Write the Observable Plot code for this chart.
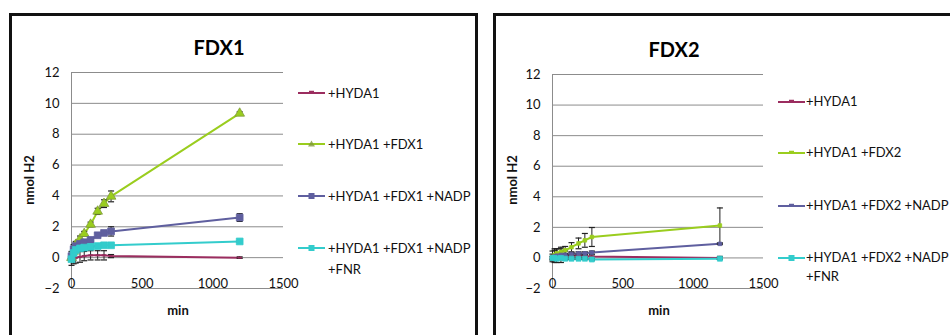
<!DOCTYPE html>
<html><head><meta charset="utf-8">
<script src="https://cdn.jsdelivr.net/npm/d3@7"></script>
<script src="https://cdn.jsdelivr.net/npm/@observablehq/plot@0.6"></script>
<style>
html,body{margin:0;padding:0;background:#fff;}
body{width:950px;height:335px;overflow:hidden;position:relative;font-family:Lato,"Open Sans",sans-serif;color:#111;}
.box{position:absolute;border:3px solid #111;box-sizing:border-box;background:#fff;}
.title{position:absolute;font-weight:bold;font-size:20px;transform:translate(-50%,-50%);color:#000;white-space:nowrap;}
.axt{position:absolute;font-weight:bold;font-size:13px;color:#111;white-space:nowrap;}
.leg{position:absolute;font-size:13px;color:#111;line-height:20px;}
.leg svg{position:absolute;left:0;top:5px;}
.leg span{position:absolute;display:block;}
.plotwrap{position:absolute;top:0;}
</style>
</head><body>
<div class="box" style="left:9px;top:13px;width:469px;height:340px"></div>
<div class="box" style="left:493px;top:13px;width:480px;height:340px"></div>
<div id="root"></div>
<script>
// ---- data ----
const timesMin = [0, 15, 30, 60, 90, 135, 185, 230, 280, 1190];
const xTicks = [0, 500, 1000, 1500];
const yTicks = [-2, 0, 2, 4, 6, 8, 10, 12];
const gridLevels = [0, 2, 4, 6, 8, 10, 12];

const panelTitles = ["FDX1", "FDX2"];
const fdx1Labels = ["+HYDA1", "+HYDA1 +FDX1", "+HYDA1 +FDX1 +NADP", "+HYDA1 +FDX1 +NADP +FNR"];
const fdx2Labels = ["+HYDA1", "+HYDA1 +FDX2", "+HYDA1 +FDX2 +NADP", "+HYDA1 +FDX2 +NADP +FNR"];
const seriesColors = ["#9B2D5F", "#9ACD1E", "#5F5F9F", "#33CCCC"];

// FDX1 panel
const fdx1Hyda      = [-0.2, -0.05, 0.0, 0.05, 0.1, 0.15, 0.15, 0.15, 0.1, 0.0];
const fdx1HydaSd    = [0.3, 0.35, 0.35, 0.35, 0.3, 0.3, 0.3, 0.3, 0.1, 0.05];
const fdx1Fdx       = [0.0, 0.4, 0.85, 1.2, 1.55, 2.15, 3.0, 3.5, 3.97, 9.35];
const fdx1FdxSd     = [0.05, 0.2, 0.2, 0.2, 0.15, 0.15, 0.2, 0.25, 0.35, 0.1];
const fdx1Nadp      = [0.1, 0.55, 0.75, 0.9, 1.0, 1.15, 1.45, 1.6, 1.7, 2.6];
const fdx1NadpSd    = [0.3, 0.3, 0.2, 0.15, 0.1, 0.1, 0.15, 0.15, 0.3, 0.25];
const fdx1Fnr       = [-0.1, 0.3, 0.5, 0.6, 0.65, 0.7, 0.75, 0.8, 0.8, 1.05];
const fdx1FnrSd     = [0.1, 0.1, 0.1, 0.05, 0.05, 0.05, 0.05, 0.05, 0.05, 0.05];

// FDX2 panel
const fdx2Hyda      = [0.1, 0.15, 0.15, 0.15, 0.15, 0.15, 0.15, 0.12, 0.1, 0.0];
const fdx2HydaSd    = [0.35, 0.45, 0.45, 0.45, 0.3, 0.1, 0.1, 0.1, 0.1, 0.1];
const fdx2Fdx       = [0.05, 0.2, 0.3, 0.4, 0.5, 0.7, 0.95, 1.15, 1.37, 2.12];
const fdx2FdxSd     = [0.2, 0.3, 0.3, 0.3, 0.25, 0.3, 0.35, 0.45, 0.62, 1.15];
const fdx2Nadp      = [0.0, 0.1, 0.15, 0.2, 0.2, 0.25, 0.3, 0.3, 0.35, 0.92];
const fdx2NadpSd    = [0.1, 0.1, 0.1, 0.1, 0.1, 0.1, 0.1, 0.1, 0.1, 0.05];
const fdx2Fnr       = [0.0, 0.0, -0.05, 0.0, -0.05, -0.05, -0.05, -0.05, -0.1, -0.05];
const fdx2FnrSd     = [0.05, 0.05, 0.05, 0.05, 0.05, 0.05, 0.05, 0.05, 0.05, 0.05];

// ---- helpers ----
const capSymbol = {draw(ctx, size) { const w = Math.sqrt(size); ctx.moveTo(-w / 2, 0); ctx.lineTo(w / 2, 0); }};
const dashSymbol = capSymbol;

function rows(values, sds) {
  return timesMin.map((t, i) => ({t, v: values[i], lo: values[i] - sds[i], hi: values[i] + sds[i]}));
}

function lineMark(data, color) {
  return Plot.line(data, {x: "t", y: "v", stroke: color, strokeWidth: 2});
}
function dotMark(data, color, markerSymbol, r, markerStroke) {
  return Plot.dot(data, {x: "t", y: "v", symbol: markerSymbol, r, fill: markerSymbol === dashSymbol ? "none" : color,
    stroke: markerStroke || color, strokeWidth: markerSymbol === dashSymbol ? 2 : 0.8});
}
function errMarks(data) {
  return [
    Plot.ruleX(data, {x: "t", y1: "lo", y2: "hi", stroke: "#222", strokeWidth: 1}),
    Plot.dot(data, {x: "t", y: "hi", symbol: capSymbol, r: 3.4, stroke: "#222", strokeWidth: 1.2, fill: "none"}),
    Plot.dot(data, {x: "t", y: "lo", symbol: capSymbol, r: 3.4, stroke: "#222", strokeWidth: 1.2, fill: "none"})
  ];
}

function makePanel(cfg) {
  const all = cfg.series.map(s => rows(s.values, s.sds));
  const plot = Plot.plot({
    width: cfg.width, height: 335,
    marginLeft: cfg.ml, marginRight: cfg.mr, marginTop: cfg.mt, marginBottom: 47,
    x: {domain: [0, 1500]},
    y: {domain: [-2, 12]},
    style: {background: "transparent", overflow: "visible", fontFamily: "Lato, 'Open Sans', sans-serif", fontSize: "13px", color: "#111"},
    marks: [
      Plot.ruleY(gridLevels, {stroke: "#8c8c8c", strokeWidth: 1}),
      Plot.ruleY([-2], {stroke: "#8c8c8c", strokeWidth: 1}),
      Plot.ruleX([0], {stroke: "#8c8c8c", strokeWidth: 1}),
      Plot.axisY(yTicks, {tickSize: 0, tickPadding: 12, label: null, fontSize: 13, tickFormat: d3.format("d")}),
      Plot.axisX(xTicks, {tickSize: 0, tickPadding: -10, label: null, fontSize: 13, tickFormat: d3.format("d")}),
      ...all.map((d, i) => lineMark(d, seriesColors[i])),
      ...all.flatMap(d => errMarks(d)),
      ...all.map((d, i) => dotMark(d, seriesColors[i], cfg.series[i].symbol, cfg.series[i].r, cfg.series[i].mstroke))
    ]
  });
  const wrap = document.createElement("div");
  wrap.className = "plotwrap";
  wrap.style.left = cfg.left + "px";
  wrap.appendChild(plot);
  document.getElementById("root").appendChild(wrap);

  const t = document.createElement("div");
  t.className = "title"; t.textContent = cfg.title;
  t.style.left = cfg.titleX + "px"; t.style.top = cfg.titleY + "px";
  document.body.appendChild(t);

  const xl = document.createElement("div");
  xl.className = "axt"; xl.textContent = "min";
  xl.style.left = cfg.minX + "px"; xl.style.top = "310px"; xl.style.transform = "translate(-50%,-50%)";
  document.body.appendChild(xl);

  const yl = document.createElement("div");
  yl.className = "axt"; yl.textContent = "nmol H2";
  yl.style.left = cfg.ylabX + "px"; yl.style.top = "180px"; yl.style.transform = "translate(-50%,-50%) rotate(-90deg)";
  document.body.appendChild(yl);

  cfg.labels.forEach((lab, i) => {
    const item = document.createElement("div");
    item.className = "leg";
    item.style.left = cfg.legX + "px";
    item.style.top = (cfg.legY[i] - 10) + "px";
    const s = cfg.series[i];
    const sw = `<svg width="28" height="10" viewBox="0 0 28 10">
      <line x1="0" y1="5" x2="27" y2="5" stroke="${seriesColors[i]}" stroke-width="2"/>
      ${s.legMark === "tri" ? `<path d="M13.5,1.5 L17,7.5 L10,7.5 Z" fill="${s.mstroke || seriesColors[i]}" opacity="0.8"/>` :
        s.legMark === "sq" ? `<rect x="10.5" y="2" width="6" height="6" fill="${seriesColors[i]}"/>` :
        `<line x1="11" y1="3.5" x2="16" y2="3.5" stroke="${seriesColors[i]}" stroke-width="1.5"/>`}
    </svg>`;
    item.innerHTML = sw + `<span style="left:${cfg.textOff}px;top:0;width:${cfg.textW}px;line-height:${cfg.lh}px">${lab}</span>`;
    document.body.appendChild(item);
  });
}

makePanel({
  left: 0, width: 480, ml: 71, mr: 197, mt: 72,
  title: panelTitles[0], titleX: 219, titleY: 47, minX: 178, ylabX: 29,
  labels: fdx1Labels, legX: 298, legY: [93, 144, 196, 248], textOff: 30, textW: 148, lh: 21,
  series: [
    {values: fdx1Hyda, sds: fdx1HydaSd, symbol: dashSymbol, r: 2.5, legMark: "dash"},
    {values: fdx1Fdx, sds: fdx1FdxSd, symbol: "triangle", r: 3.6, mstroke: "#7f9a3a", legMark: "tri"},
    {values: fdx1Nadp, sds: fdx1NadpSd, symbol: "square", r: 3.8, legMark: "sq"},
    {values: fdx1Fnr, sds: fdx1FnrSd, symbol: "square", r: 3.8, legMark: "sq"}
  ]
});

makePanel({
  left: 480, width: 470, ml: 72, mr: 187, mt: 74,
  title: panelTitles[1], titleX: 674, titleY: 49, minX: 659, ylabX: 512,
  labels: fdx2Labels, legX: 778, legY: [102, 153, 206, 258], textOff: 28, textW: 150, lh: 19,
  series: [
    {values: fdx2Hyda, sds: fdx2HydaSd, symbol: dashSymbol, r: 2.2, legMark: "dash"},
    {values: fdx2Fdx, sds: fdx2FdxSd, symbol: "square", r: 2.0, legMark: "dash"},
    {values: fdx2Nadp, sds: fdx2NadpSd, symbol: "square", r: 2.0, legMark: "dash"},
    {values: fdx2Fnr, sds: fdx2FnrSd, symbol: "square", r: 2.8, legMark: "sq"}
  ]
});
</script>
</body></html>
